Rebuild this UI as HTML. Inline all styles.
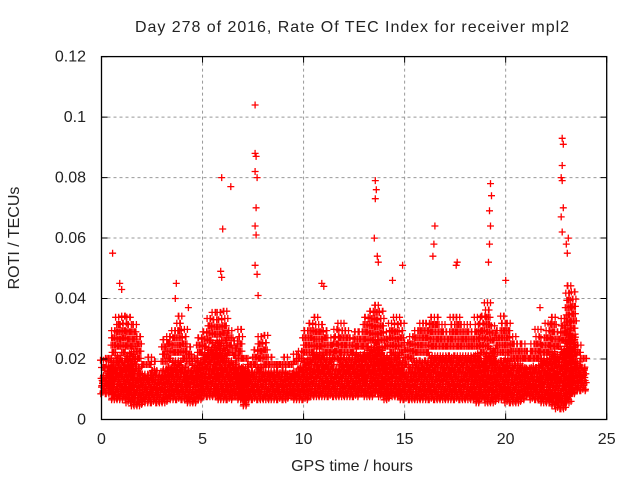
<!DOCTYPE html>
<html><head><meta charset="utf-8"><style>
html,body{margin:0;padding:0;background:#fff;}
svg text{font-family:"Liberation Sans",sans-serif;fill:#222;}
</style></head><body>
<svg id="chart" width="640" height="480" viewBox="0 0 640 480" xmlns="http://www.w3.org/2000/svg">
<rect width="640" height="480" fill="#fff"/>
<g id="grid"></g>
<g id="marks"></g>
<rect x="101.5" y="56.6" width="505.2" height="362.9" fill="none" stroke="#000" stroke-width="1.3"/>
<g id="ticks"></g>
<text x="352" y="32" font-size="16" text-anchor="middle" textLength="434">Day 278 of 2016, Rate Of TEC Index for receiver mpl2</text>
<text x="352" y="471" font-size="16" text-anchor="middle">GPS time / hours</text>
<text x="19" y="238" font-size="16" text-anchor="middle" transform="rotate(-90 19 238)">ROTI / TECUs</text>
</svg>
<script>
const xTicks = [0,5,10,15,20,25];
const yTicks = [0,0.02,0.04,0.06,0.08,0.1,0.12];
const yTickLabels = ["0","0.02","0.04","0.06","0.08","0.1","0.12"];
const binHours = 0.25;
// per-bin (0.25 h) values in units of 0.001 TECU
const lowVals = [9,9,7,7, 7,6,5,5, 6,6,6,6, 6,7,7,7, 7,6,6,7, 8,8,8,7, 7,7,8,7, 5,7,7,7, 7,7,7,7, 7,8,7,7, 7,8,8,8, 8,8,8,8, 8,8,8,9, 8,8,9,8, 7,8,8,7, 7,7,7,7, 7,7,7,7, 7,7,7,7, 7,7,6,7, 6,6,7,7, 6,6,6,7, 8,7,7,6, 6,5,4,4, 6,9,10,10];
const coreVals = [15,18,20,22, 20,22,22,18, 16,16,17,16, 17,18,20,20, 18,17,18,20, 22,24,26,26, 24,20,19,18, 18,16,16,18, 16,16,16,16, 16,16,17,18, 20,20,22,22, 20,20,18,20, 20,20,22,22, 22,24,26,24, 22,20,22,20, 16,18,20,20, 20,22,22,22, 22,22,22,22, 22,22,22,20, 22,24,20,20, 20,18,18,18, 18,18,18,20, 20,22,22,24, 30,28,20,18];
const highVals = [20,22,30,36, 36,34,32,28, 20,22,20,18, 28,28,30,36, 30,24,22,28, 30,34,36,36, 36,30,28,30, 22,20,24,28, 28,22,20,20, 22,20,22,24, 30,34,34,32, 30,28,30,32, 30,28,30,30, 36,38,40,36, 30,34,34,32, 26,28,30,34, 34,36,36,32, 30,34,36,32, 32,30,34,36, 40,32,30,36, 34,28,26,26, 24,26,30,28, 32,36,30,34, 46,44,26,22];
const outlierHours = [0.55,7.6,7.6,7.65,7.6,7.7,7.65,7.6,7.65,7.6,7.7,7.75,5.95,6.4,6.0,5.9,5.95,13.55,13.6,13.55,13.5,13.65,13.7,16.5,16.45,16.4,19.25,19.3,19.2,19.25,19.2,19.15,22.8,22.85,22.8,22.75,22.8,22.85,22.75,22.8,23.0,23.05,23.1,17.6,17.55,14.9,14.4,3.7,3.65,0.9,1.0,10.9,11.0,20.0,4.3,21.7];
const outlierVals = [0.055,0.104,0.088,0.087,0.082,0.080,0.070,0.064,0.061,0.051,0.048,0.041,0.080,0.077,0.063,0.049,0.047,0.079,0.076,0.073,0.060,0.054,0.052,0.064,0.058,0.054,0.078,0.074,0.069,0.064,0.058,0.052,0.093,0.091,0.084,0.080,0.079,0.070,0.067,0.062,0.058,0.055,0.060,0.052,0.051,0.051,0.046,0.045,0.040,0.045,0.043,0.045,0.044,0.046,0.037,0.037];

const X0=101.5, X1=606.7, Y0=419.5, Y1=56.6;
function xs(h){return X0+(h/25)*(X1-X0);}
function ys(v){return Y0-(v/0.12)*(Y0-Y1);}
const NS="http://www.w3.org/2000/svg";
const grid=document.getElementById('grid'), ticks=document.getElementById('ticks'), marks=document.getElementById('marks');

xTicks.forEach(function(t){
  const x=xs(t);
  if(t>0&&t<25){
    const g=document.createElementNS(NS,'line');
    
    
    g.setAttribute('x1',x);g.setAttribute('x2',x);g.setAttribute('y1',Y1);g.setAttribute('y2',Y0);
    g.setAttribute('stroke','#999');g.setAttribute('stroke-dasharray','3,3');
    grid.appendChild(g);
  }
  const tk=document.createElementNS(NS,'path');
  
  
  tk.setAttribute('d','M'+x+' '+Y0+'v-6M'+x+' '+Y1+'v6');
  tk.setAttribute('stroke','#000');
  ticks.appendChild(tk);
  const lb=document.createElementNS(NS,'text');
  
  
  lb.setAttribute('x',x);lb.setAttribute('y',444);lb.setAttribute('font-size','16');lb.setAttribute('text-anchor','middle');
  lb.textContent=String(t);
  ticks.appendChild(lb);
});
yTicks.forEach(function(v,i){
  const y=ys(v);
  if(v>0&&v<0.12){
    const g=document.createElementNS(NS,'line');
    
    
    g.setAttribute('x1',X0);g.setAttribute('x2',X1);g.setAttribute('y1',y);g.setAttribute('y2',y);
    g.setAttribute('stroke','#999');g.setAttribute('stroke-dasharray','3,3');
    grid.appendChild(g);
  }
  const tk=document.createElementNS(NS,'path');
  
  
  tk.setAttribute('d','M'+X0+' '+y+'h6M'+X1+' '+y+'h-6');
  tk.setAttribute('stroke','#000');
  ticks.appendChild(tk);
  const lb=document.createElementNS(NS,'text');
  
  
  lb.setAttribute('x',86);lb.setAttribute('y',y+5);lb.setAttribute('font-size','16');lb.setAttribute('text-anchor','end');
  lb.textContent=yTickLabels[i];
  ticks.appendChild(lb);
});

let d='';
function plus(h,v){const x=xs(h),y=ys(v);d+='M'+(x-3.5).toFixed(1)+' '+y.toFixed(1)+'h7M'+x.toFixed(1)+' '+(y-3.5).toFixed(1)+'v7';}
for(let i=0;i<lowVals.length;i++){
  const lo=lowVals[i]/1000, co=coreVals[i]/1000, hi=highVals[i]/1000;
  for(let k=0;k<5;k++){
    const h=i*binHours+k*binHours/5;
    let r=0;
    for(let v=lo; v<=co; v+=0.0017){ const off=(((r*7+k*3+i)%5)-2)*0.018; plus(h+off,v+(((r+k)%3)-1)*0.0005); r++; }
    const top=co+(hi-co)*(k%2===0?1:0.7);
    for(let v=co+0.0022; v<=top; v+=0.0024){ const off=(((r*3+k+i*2)%5)-2)*0.025; plus(h+off,v); r++; }
  }
}
outlierHours.forEach(function(h,i){plus(h,outlierVals[i]);});
const p=document.createElementNS(NS,'path');


p.setAttribute('d',d);p.setAttribute('stroke','#ff0000');p.setAttribute('stroke-width','1.3');p.setAttribute('fill','none');
marks.appendChild(p);
</script>
</body></html>
